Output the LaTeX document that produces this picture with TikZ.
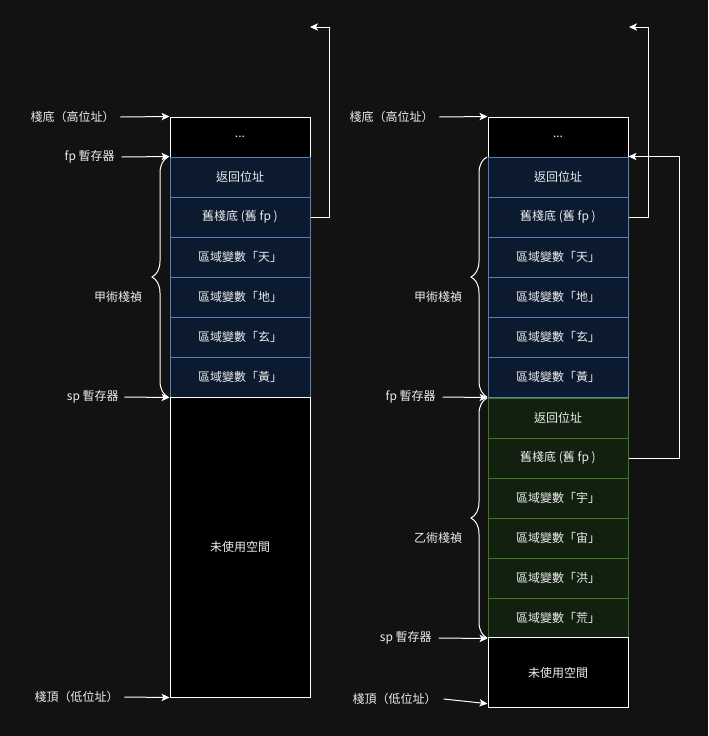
\documentclass[tikz,border=0pt]{standalone}
\usepackage{fontspec}
\setmainfont{Noto Sans CJK TC}
\usetikzlibrary{arrows.meta,decorations.pathreplacing}
\definecolor{bgc}{HTML}{121212}
\definecolor{bluefill}{HTML}{0B1A2E}
\definecolor{blueline}{HTML}{5A7FB5}
\definecolor{greenfill}{HTML}{11200F}
\definecolor{greenline}{HTML}{3B7A1F}
\definecolor{txt}{HTML}{EEEEEE}

\begin{document}
\begin{tikzpicture}[x=0.75pt,y=-0.75pt,
  font=\fontsize{9pt}{11pt}\selectfont, text=txt,
  cell/.style={minimum width=105pt,minimum height=30pt,inner sep=0pt,line width=0.75pt},
  bluecell/.style={cell,fill=bluefill,draw=blueline},
  greencell/.style={cell,fill=greenfill,draw=greenline},
  blackcell/.style={cell,fill=black,draw=white},
  lbl/.style={anchor=east,inner sep=0pt},
  arr/.style={draw=white,line width=0.75pt,-{Stealth[length=6pt,width=5.5pt,inset=1.5pt]}},
  brace/.style={draw=white,line width=0.75pt,decorate,decoration={brace,amplitude=12pt}}]
\fill[bgc] (0,0) rectangle (708,736);

\node[blackcell] (lTop) at (240,137) {...};
\node[bluecell] (lRet) at (240,177) {返回位址};
\node[bluecell] (lOld) at (240,217) {舊棧底 (舊 fp )};
\node[bluecell] (lTian) at (240,257) {區域變數「天」};
\node[bluecell] (lDi) at (240,297) {區域變數「地」};
\node[bluecell] (lXuan) at (240,337) {區域變數「玄」};
\node[bluecell] (lHuang) at (240,377) {區域變數「黃」};
\node[blackcell,minimum height=225pt] (lFree) at (240,547) {未使用空間};

\node[lbl] (lBase) at (115,117) {棧底（高位址）};
\node[lbl] (lFp) at (115,157) {fp 暫存器};
\node[lbl] (lSp) at (119,397) {sp 暫存器};
\node[lbl] (lEnd) at (119,697) {棧頂（低位址）};
\node (lFrame) at (118,297) {甲術棧禎};
\coordinate (lBack) at (310,27);

\draw[arr] ([xshift=4pt]lBase.east) -- (lTop.north west);
\draw[arr] ([xshift=5pt]lFp.east) -- (lRet.north west);
\draw[arr] ([xshift=4pt]lSp.east) -- (lHuang.south west);
\draw[arr] ([xshift=4pt]lEnd.east) -- (lFree.south west);
\draw[brace] (168,397) -- (168,157);
\draw[arr] (lOld.east) -- ++(19,0) |- (lBack);

\node[blackcell] (rTop) at (558,137) {...};
\node[bluecell] (rRet) at (558,177) {返回位址};
\node[bluecell] (rOld) at (558,217) {舊棧底 (舊 fp )};
\node[bluecell] (rTian) at (558,257) {區域變數「天」};
\node[bluecell] (rDi) at (558,297) {區域變數「地」};
\node[bluecell] (rXuan) at (558,337) {區域變數「玄」};
\node[bluecell] (rHuang) at (558,377) {區域變數「黃」};
\node[greencell] (rRetB) at (558,418) {返回位址};
\node[greencell] (rOldB) at (558,458) {舊棧底 (舊 fp )};
\node[greencell] (rYu) at (558,498) {區域變數「宇」};
\node[greencell] (rZhou) at (558,538) {區域變數「宙」};
\node[greencell] (rHong) at (558,578) {區域變數「洪」};
\node[greencell] (rHuangB) at (558,618) {區域變數「荒」};
\node[blackcell,minimum height=52pt] (rFree) at (558,672.5) {未使用空間};

\node[lbl] (rBase) at (434,117) {棧底（高位址）};
\node[lbl] (rFp) at (436,397) {fp 暫存器};
\node[lbl] (rSp) at (432,638) {sp 暫存器};
\node[lbl] (rEnd) at (437,699) {棧頂（低位址）};
\node (rFrameA) at (438,297) {甲術棧禎};
\node (rFrameB) at (438,538) {乙術棧禎};
\coordinate (rBack) at (629,27);

\draw[arr] ([xshift=4pt]rBase.east) -- (rTop.north west);
\draw[arr] ([xshift=5pt]rFp.east) -- (rHuang.south west);
\draw[arr] ([xshift=5pt]rSp.east) -- (rHuangB.south west);
\draw[arr] ([xshift=5pt]rEnd.east) -- ([yshift=3pt]rFree.south west);
\draw[brace] (487,397) -- (487,157);
\draw[brace] (487,638) -- (487,398);
\draw[arr] (rOld.east) -- ++(20,0) |- (rBack);
\draw[arr] (rOldB.east) -- ++(51,0) |- (rRet.north east);
\end{tikzpicture}
\end{document}
